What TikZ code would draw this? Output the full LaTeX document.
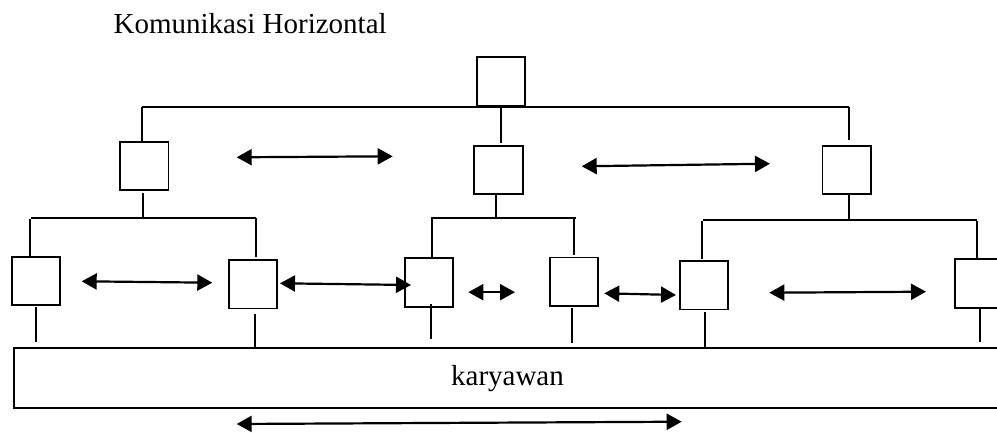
\documentclass[tikz,border=0pt]{standalone}
\usepackage{fontspec}
\setmainfont{Liberation Serif}
\usetikzlibrary{arrows.meta}
\begin{document}
\begin{tikzpicture}[x=1pt,y=-1pt,
  line width=1.9pt,
  unitbox/.style={draw,line width=1.9pt,minimum width=48.5pt,minimum height=48.5pt,inner sep=0pt},
  stem/.style={line width=1.9pt},
  twoway/.style={line width=2.2pt,{Triangle[length=15pt,width=16pt]}-{Triangle[length=15pt,width=16pt]}},
  label/.style={font=\fontsize{29}{34}\selectfont,inner sep=0pt}]
\path[use as bounding box,clip] (0,0) rectangle (997,433);

% title
\node[label,anchor=base west] (title) at (112.7,33.3) {Komunikasi Horizontal};

% boxes of the chart
\node[unitbox] (top) at (501,81.5) {};
\node[unitbox] (l2a) at (144.2,165.9) {};
\node[unitbox] (l2b) at (498.3,170) {};
\node[unitbox] (l2c) at (846.7,170) {};
\node[unitbox] (b1) at (36,280.8) {};
\node[unitbox] (b2) at (252.8,284.2) {};
\node[unitbox] (b3) at (429,282.5) {};
\node[unitbox] (b4) at (574,281.7) {};
\node[unitbox] (b5) at (704,285.2) {};
\node[unitbox] (b6) at (979.6,283.3) {};

% employee band
\node[draw,line width=1.9pt,minimum width=1090pt,minimum height=60pt,inner sep=0pt,anchor=north west] (staff) at (12.7,347.3) {};
\node[label,anchor=base] (stafftext) at (507.5,385) {karyawan};

% top level bus
\coordinate (tbL) at (142,107.3);
\coordinate (tbR) at (849,107.3);
\coordinate (tbM) at (500.7,107.3);
\draw[stem] (tbL) -- (tbR);
\draw[stem] (tbL) -- (tbL |- l2a.north);
\draw[stem] (tbM) -- ++(0,35.7);
\draw[stem] (tbR) -- ++(0,33);

% second level stems and buses
\coordinate (s2a) at (143.3,193.3);
\coordinate (s2b) at (496,194);
\coordinate (s2c) at (849.3,194);
\coordinate (busaL) at (31,217.7);  \coordinate (busaR) at (256,217.7);
\coordinate (busbL) at (431,217.7); \coordinate (busbR) at (576,217.7);
\coordinate (buscL) at (703,220);   \coordinate (buscR) at (976.7,220);
\draw[stem] (s2a) -- (s2a |- busaL);
\draw[stem] (s2b) -- (s2b |- busbL);
\draw[stem] (s2c) -- (s2c |- buscL);
\draw[stem] (busaL) -- (busaR);
\draw[stem] (busbL) -- (busbR);
\draw[stem] (buscL) -- (buscR);

% drops to third level
\coordinate (d1) at (29.7,219);   \draw[stem] (d1) -- (d1 |- b1.north);
\coordinate (d2) at (256,218);    \draw[stem] (d2) -- ++(0,38.7);
\coordinate (d3) at (432.3,219);  \draw[stem] (d3) -- (d3 |- b3.north);
\coordinate (d4) at (574,219);    \draw[stem] (d4) -- ++(0,36);
\coordinate (d5) at (702.3,221);  \draw[stem] (d5) -- ++(0,38.3);
\coordinate (d6) at (977.3,221);  \draw[stem] (d6) -- (d6 |- b6.north);

% stems down to the employee band
\coordinate (u1) at (35.7,306.7);  \draw[stem] (u1) -- ++(0,35);
\coordinate (u2) at (255,314);     \draw[stem] (u2) -- (u2 |- staff.north);
\coordinate (u3) at (431.3,304);   \draw[stem] (u3) -- ++(0,35.3);
\coordinate (u4) at (572.3,308.3); \draw[stem] (u4) -- ++(0,35);
\coordinate (u5) at (705.3,311.7); \draw[stem] (u5) -- (u5 |- staff.north);
\coordinate (u6) at (980,308.3);   \draw[stem] (u6) -- ++(0,33.4);

% horizontal communication arrows
\coordinate (h1a) at (236.7,157.3); \coordinate (h1b) at (392.7,156.3);
\coordinate (h2a) at (581.7,166.3); \coordinate (h2b) at (770,163.7);
\coordinate (h3a) at (81.7,281.3);  \coordinate (h3b) at (212.3,282.7);
\coordinate (h4a) at (280,283.3);   \coordinate (h4b) at (411,285);
\coordinate (h5a) at (468.3,292.2); \coordinate (h5b) at (515,292.2);
\coordinate (h6a) at (604.3,293.3); \coordinate (h6b) at (676,295);
\coordinate (h7a) at (769.3,292.7); \coordinate (h7b) at (926,291.7);
\coordinate (h8a) at (236.7,424);   \coordinate (h8b) at (681.7,421.7);
\draw[twoway] (h1a) -- (h1b);
\draw[twoway] (h2a) -- (h2b);
\draw[twoway] (h3a) -- (h3b);
\draw[twoway] (h4a) -- (h4b);
\draw[twoway] (h5a) -- (h5b);
\draw[twoway] (h6a) -- (h6b);
\draw[twoway] (h7a) -- (h7b);
\draw[twoway] (h8a) -- (h8b);
\end{tikzpicture}
\end{document}
